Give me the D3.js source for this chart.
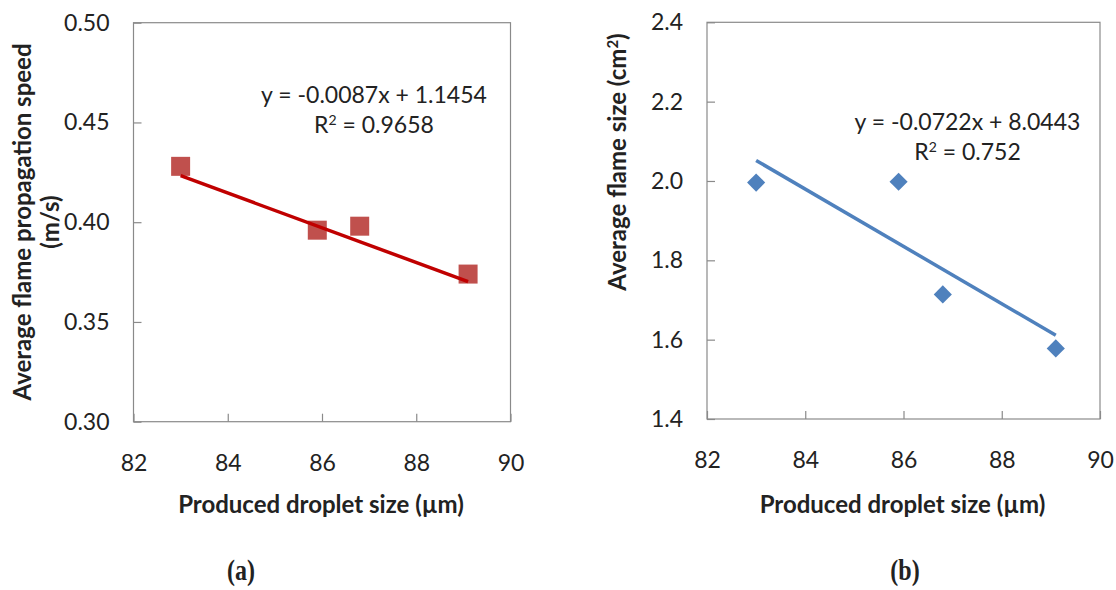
<!DOCTYPE html>
<html>
<head>
<meta charset="utf-8">
<script src="https://cdn.jsdelivr.net/npm/d3@7"></script>
<style>
  html, body { margin: 0; padding: 0; background: #fff; }
  svg { display: block; }
  text { font-family: Lato, "Open Sans", sans-serif; fill: #222; }
</style>
</head>
<body>
<svg id="chart" width="1116" height="590"></svg>
<script>
// Droplet size shared by both panels (µm)
const dropletSize = [83.0, 85.9, 86.8, 89.1];
// Panel (a): average flame propagation speed (m/s)
const flameSpeed = [0.428, 0.396, 0.398, 0.374];
// Panel (b): average flame size (cm²)
const flameSize = [1.996, 1.998, 1.714, 1.578];

const xTicks = [82, 84, 86, 88, 90];
const speedTicks = [0.30, 0.35, 0.40, 0.45, 0.50];
const sizeTicks = [1.4, 1.6, 1.8, 2.0, 2.2, 2.4];

// Linear trendline coefficients as printed on each panel
const speedFit = [-0.0087, 1.1454, "0.9658"];
const sizeFit = [-0.0722, 8.0443, "0.752"];

const panelLabels = ["(a)", "(b)"];
const xTitle = "Produced droplet size (µm)";

const svg = d3.select("#chart");

function drawPanel(opt) {
  const x = d3.scaleLinear().domain([xTicks[0], xTicks[xTicks.length - 1]]).range([opt.left, opt.right]);
  const y = d3.scaleLinear().domain([opt.yTicks[0], opt.yTicks[opt.yTicks.length - 1]]).range([opt.bottom, opt.top]);
  const g = svg.append("g");

  // Plot frame
  g.append("rect")
    .attr("x", opt.left).attr("y", opt.top)
    .attr("width", opt.right - opt.left).attr("height", opt.bottom - opt.top)
    .attr("fill", "none").attr("stroke", "#8a8a8a").attr("stroke-width", 1.2);

  // Y axis (ticks point inward)
  const ya = g.append("g").attr("transform", `translate(${opt.left},0)`)
    .call(d3.axisLeft(y).tickValues(opt.yTicks).tickFormat(opt.yFormat)
      .tickSizeInner(-8).tickSizeOuter(0).tickPadding(24));
  ya.select(".domain").remove();
  ya.selectAll("line").attr("stroke", "#8a8a8a").attr("stroke-width", 1.2);
  ya.selectAll("text").style("font-size", "23px").style("font-family", "Lato").attr("fill", "#222");

  // X axis
  const xa = g.append("g").attr("transform", `translate(0,${opt.bottom})`)
    .call(d3.axisBottom(x).tickValues(xTicks).tickFormat(d3.format("d"))
      .tickSizeInner(-8).tickSizeOuter(0).tickPadding(33));
  xa.select(".domain").remove();
  xa.selectAll("line").attr("stroke", "#8a8a8a").attr("stroke-width", 1.2);
  xa.selectAll("text").style("font-size", "23px").style("font-family", "Lato").attr("fill", "#222");

  // Markers
  const pts = dropletSize.map((d, i) => [d, opt.values[i]]);
  const sym = d3.symbol().type(opt.symbol).size(opt.symbolSize);
  g.selectAll("path.pt").data(pts).enter().append("path")
    .attr("class", "pt")
    .attr("d", sym)
    .attr("transform", d => `translate(${x(d[0])},${y(d[1])})`)
    .attr("fill", opt.markerColor);

  // Trendline over the data range
  const x0 = d3.min(dropletSize), x1 = d3.max(dropletSize);
  const [m, b] = opt.fit;
  g.append("line")
    .attr("x1", x(x0)).attr("y1", y(m * x0 + b))
    .attr("x2", x(x1)).attr("y2", y(m * x1 + b))
    .attr("stroke", opt.lineColor).attr("stroke-width", 3.5).attr("stroke-linecap", "butt");

  // Equation label
  const eq = g.append("text").attr("text-anchor", "middle").style("font-size", "23px");
  eq.append("tspan").attr("x", opt.eqX).attr("y", opt.eqY)
    .text(`y = ${m.toFixed(4)}x + ${b.toFixed(4)}`);
  const r = g.append("text").attr("text-anchor", "middle").style("font-size", "23px")
    .attr("x", opt.eqX).attr("y", opt.eqY + 30);
  r.append("tspan").text("R");
  r.append("tspan").attr("dy", -8).style("font-size", "14px").text("2");
  r.append("tspan").attr("dy", 8).text(` = ${opt.fit[2]}`);

  // Y axis title
  const yt = g.append("text").attr("text-anchor", "middle")
    .attr("transform", `translate(${opt.yTitleX},${opt.yTitleY}) rotate(-90)`)
    .style("font-size", opt.yTitleSize).style("font-weight", "700");
  opt.yTitle(yt);

  // X axis title
  g.append("text").attr("text-anchor", "middle")
    .attr("x", (opt.left + opt.right) / 2 - 1).attr("y", 513)
    .style("font-size", "24px").style("font-weight", "700")
    .text(xTitle);

  // Panel label
  g.append("text").attr("text-anchor", "middle")
    .attr("transform", `translate(${opt.labelX},580) scale(0.8,1)`)
    .style("font-family", "'Liberation Serif', serif").style("font-size", "30px").style("font-weight", "700")
    .attr("fill", "#000")
    .text(opt.label);
}

drawPanel({
  left: 133.5, right: 510.5, top: 22.7, bottom: 421.7,
  yTicks: speedTicks, yFormat: d3.format(".2f"),
  values: flameSpeed, fit: speedFit,
  symbol: d3.symbolSquare, symbolSize: 19 * 19,
  markerColor: "#C0504D", lineColor: "#C00000",
  eqX: 374, eqY: 103,
  yTitleX: 31, yTitleY: 222, yTitleSize: "24px",
  yTitle: t => {
    t.append("tspan").attr("x", 0).attr("y", 0).text("Average flame propagation speed");
    t.append("tspan").attr("x", 0).attr("y", 28).text("(m/s)");
  },
  labelX: 241, label: panelLabels[0]
});

drawPanel({
  left: 707, right: 1100, top: 22.3, bottom: 419,
  yTicks: sizeTicks, yFormat: d3.format(".1f"),
  values: flameSize, fit: sizeFit,
  symbol: d3.symbolDiamond2, symbolSize: 210,
  markerColor: "#4F81BD", lineColor: "#4F81BD",
  eqX: 967.5, eqY: 130,
  yTitleX: 626, yTitleY: 162, yTitleSize: "24px",
  yTitle: t => {
    t.append("tspan").text("Average flame size (cm");
    t.append("tspan").attr("dy", -8).style("font-size", "15px").text("2");
    t.append("tspan").attr("dy", 8).text(")");
  },
  labelX: 905, label: panelLabels[1]
});
</script>
</body>
</html>
